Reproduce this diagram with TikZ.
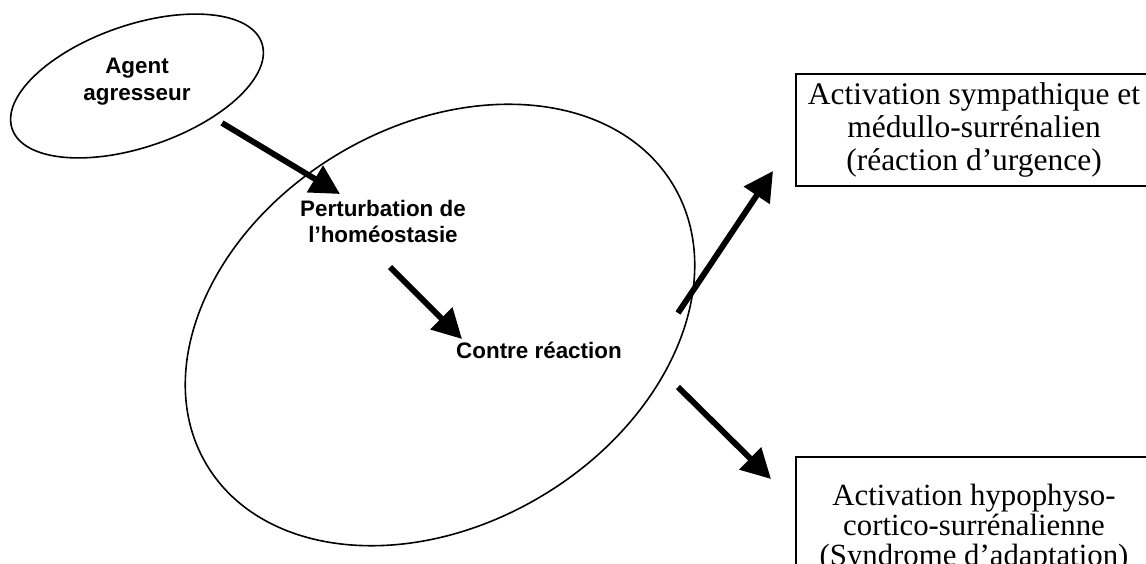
\documentclass[tikz,border=0pt]{standalone}
\usepackage{fontspec}
\setmainfont{Liberation Serif}
\setsansfont{Liberation Sans}
\usetikzlibrary{arrows.meta}

\begin{document}
\begin{tikzpicture}[x=0.75pt,y=0.75pt,
  oval/.style={line width=1.2pt},
  tag/.style={font=\sffamily\bfseries\fontsize{16.8}{20}\selectfont, align=center, inner sep=0pt},
  outbox/.style={draw, line width=1.4pt, align=center, inner sep=0pt, minimum width=267pt},
  flow/.style={line width=4.4pt, -{Triangle[length=22pt,width=22.5pt]}}
]
\useasboundingbox (0,0) rectangle (1146,564);
\clip (0,0) rectangle (1146,564);

% ovals
\draw[oval, rotate around={19:(137,478)}] (137,478) ellipse [x radius=132, y radius=61];
\draw[oval, rotate around={31:(440,239)}] (440,239) ellipse [x radius=272, y radius=199];

% labels
\node[tag] (agent) at (137,482.6) {Agent\\agresseur};
\node[tag] (perturb) at (383,342.6) {Perturbation de\\l’homéostasie};
\node[tag] (contre) at (539,214) {Contre réaction};

% outcome boxes
\node[outbox, minimum height=84pt, font=\fontsize{23.6}{25.1}\selectfont] (sympa) at (974,434)
  {Activation sympathique et\\médullo-surrénalien\\(réaction d’urgence)};
\node[outbox, minimum height=106.8pt, font=\fontsize{23.1}{22.6}\selectfont] (hypo) at (974,36)
  {Activation hypophyso-\\cortico-surrénalienne\\(Syndrome d’adaptation)};

% arrow end points
\coordinate (a1s) at (222,441);
\coordinate (a1e) at (340,370);
\coordinate (a2s) at (390,297);
\coordinate (a2e) at (462,225);
\coordinate (a3s) at (678,251);
\coordinate (a3e) at (773,393);
\coordinate (a4s) at (678,177);
\coordinate (a4e) at (771,85);

\draw[flow] (a1s) -- (a1e);
\draw[flow] (a2s) -- (a2e);
\draw[flow] (a3s) -- (a3e);
\draw[flow] (a4s) -- (a4e);
\end{tikzpicture}
\end{document}
